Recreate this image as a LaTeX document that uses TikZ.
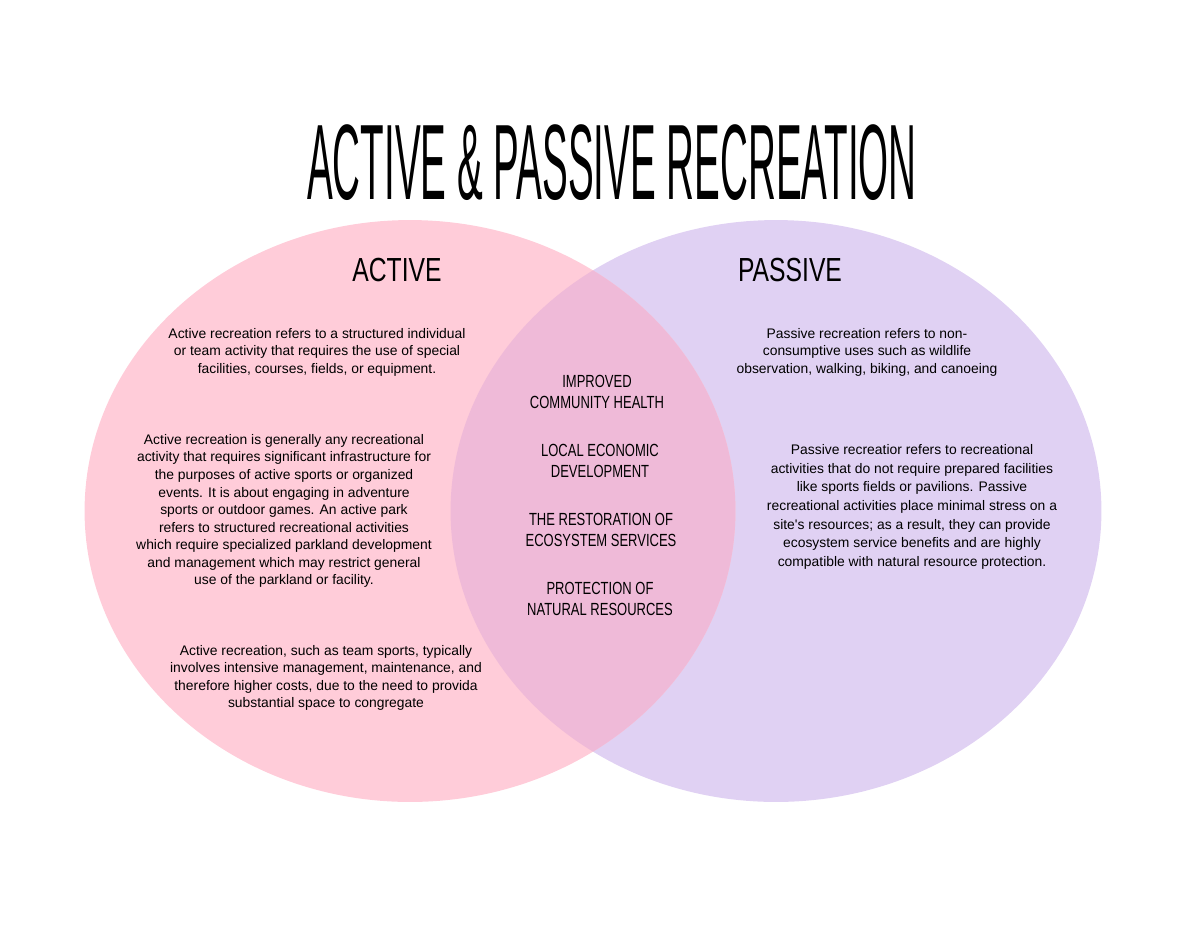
\documentclass[tikz,border=0pt]{standalone}
\usepackage{fontspec}
\setmainfont{Liberation Sans}
\newfontfamily\titlefont[FakeStretch=0.36]{Liberation Sans}
\newfontfamily\capsfont[FakeStretch=0.74]{Liberation Sans}
\newfontfamily\bodyfont{Liberation Sans}
\definecolor{activepink}{HTML}{FFCCD9}
\definecolor{passivelilac}{HTML}{E0D1F3}
\definecolor{bothpink}{HTML}{EFBAD8}
\begin{document}
\begin{tikzpicture}[x=0.02cm,y=-0.02cm]

      \useasboundingbox (0,0) rectangle (1200,927);

      \fill[passivelilac] (776,511) ellipse [x radius=6.51cm, y radius=5.82cm];
      \fill[activepink] (410,511) ellipse [x radius=6.51cm, y radius=5.82cm];
      \begin{scope}
        \clip (410,511) ellipse [x radius=6.51cm, y radius=5.82cm];
        \fill[bothpink] (776,511) ellipse [x radius=6.51cm, y radius=5.82cm];
      \end{scope}

      \node[font=\titlefont\fontsize{61}{61}\selectfont] (title) at (612,163) {ACTIVE \& PASSIVE RECREATION};

      \begin{scope}[every node/.style={font=\capsfont\fontsize{19}{22}\selectfont}]
        \node (act) at (397,270) {ACTIVE};
        \node (pas) at (790,270) {PASSIVE};
      \end{scope}

      \begin{scope}[every node/.style={align=center, font=\bodyfont\fontsize{7.9}{10}\selectfont}]
        \node (a1) at (317,352) {Active recreation refers to a structured individual\\
          or team activity that requires the use of special\\
          facilities, courses, fields, or equipment.};
        \node (a2) at (284,511) {Active recreation is generally any recreational\\
          activity that requires significant infrastructure for\\
          the purposes of active sports or organized\\
          events. It is about engaging in adventure\\
          sports or outdoor games. An active park\\
          refers to structured recreational activities\\
          which require specialized parkland development\\
          and management which may restrict general\\
          use of the parkland or facility.};
        \node (a3) at (326,678) {Active recreation, such as team sports, typically\\
          involves intensive management, maintenance, and\\
          therefore higher costs, due to the need to provida\\
          substantial space to congregate};
        \node (p1) at (867,352) {Passive recreation refers to non-\\
          consumptive uses such as wildlife\\
          observation, walking, biking, and canoeing};
        \node[font=\bodyfont\fontsize{7.9}{10.6}\selectfont] (p2) at (912,507) {Passive recreatior refers to recreational\\
          activities that do not require prepared facilities\\
          like sports fields or pavilions. Passive\\
          recreational activities place minimal stress on a\\
          site's resources; as a result, they can provide\\
          ecosystem service benefits and are highly\\
          compatible with natural resource protection.};
      \end{scope}

      \begin{scope}[every node/.style={align=center, font=\capsfont\fontsize{10}{12}\selectfont}]
        \node (c1) at (597,392) {IMPROVED\\COMMUNITY HEALTH};
        \node (c2) at (600,461) {LOCAL ECONOMIC\\DEVELOPMENT};
        \node (c3) at (601,530) {THE RESTORATION OF\\ECOSYSTEM SERVICES};
        \node (c4) at (600,599) {PROTECTION OF\\NATURAL RESOURCES};
      \end{scope}

    \end{tikzpicture}
\end{document}
